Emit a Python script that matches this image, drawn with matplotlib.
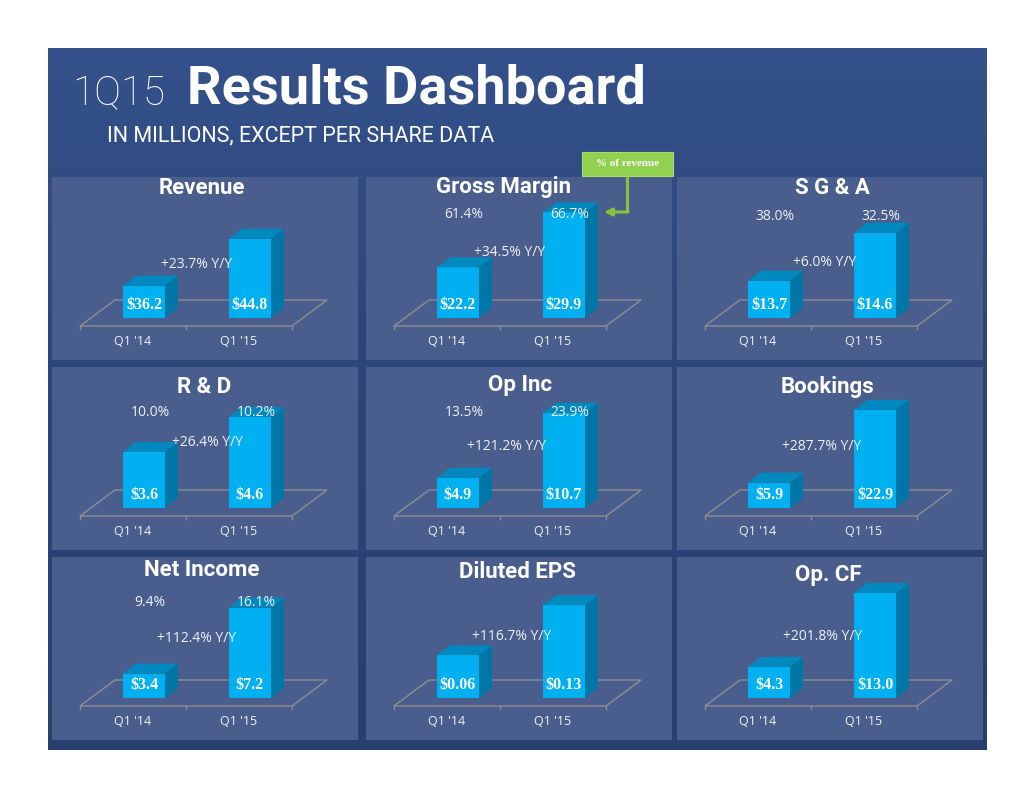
import numpy as np
import matplotlib
matplotlib.use('Agg')
import matplotlib.pyplot as plt
from matplotlib.patches import Rectangle, Polygon
from matplotlib.colors import LinearSegmentedColormap

# ---- data ----
titles = ['Revenue', 'Gross Margin', 'S G & A',
          'R & D', 'Op Inc', 'Bookings',
          'Net Income', 'Diluted EPS', 'Op. CF']
categories = ["Q1 '14", "Q1 '15"]
q1_14 = [36.2, 22.2, 13.7, 3.6, 4.9, 5.9, 3.4, 0.06, 4.3]
q1_15 = [44.8, 29.9, 14.6, 4.6, 10.7, 22.9, 7.2, 0.13, 13.0]
decimals = [1, 1, 1, 1, 1, 1, 1, 2, 1]
yoy = ['+23.7%', '+34.5%', '+6.0%', '+26.4%', '+121.2%',
       '+287.7%', '+112.4%', '+116.7%', '+201.8%']
pct_14 = [None, '61.4%', '38.0%', '10.0%', '13.5%', None, '9.4%', None, None]
pct_15 = [None, '66.7%', '32.5%', '10.2%', '23.9%', None, '16.1%', None, None]

# axis ranges of each little chart (the original uses a cut floor)
y_low = [30.3, 15.1, 13.0, 2.0, 2.2, 0.0, 2.0, 0.0, 0.65]
y_high = [50.6, 30.65, 15.08, 5.17, 12.1, 25.9, 8.38, 0.1555, 13.7]

# ---- layout (pixels) ----
W, H = 1034, 799
col_x = [52, 366, 677]
row_y = [177, 367, 557]
PW, PH = 306, 183
title_dx = [150, 137, 155, 152, 154, 151, 150, 151, 151]
title_dy = [11, 10, 11, 20, 18, 20, 13, 15, 18]
yoy_pos = [(145, 87), (144, 76), (148, 86), (155, 76), (141, 80),
           (145, 79), (145, 81), (146, 80), (146, 80)]
pct_dy = [0, 38, 40, 46, 46, 0, 46, 0, 0]

HEAD = 'Roboto'
LABEL = 'Open Sans'
SERIF = 'Liberation Serif'

FRONT = '#00b0f0'
SIDE = '#0076a6'
TOP = '#0089bf'
FLOOR = '#8e8e8e'
TXT = '#eef0f4'

fig = plt.figure(figsize=(W / 100, H / 100), dpi=100)
fig.patch.set_facecolor('white')

bg = fig.add_axes([0, 0, 1, 1], zorder=0)
bg.set_xlim(0, W)
bg.set_ylim(H, 0)
bg.axis('off')

# background block
cmap = LinearSegmentedColormap.from_list('bgblue', ['#34518b', '#2c4577', '#283f70'])
grad = np.linspace(0, 1, 200).reshape(-1, 1)
bg.imshow(grad, cmap=cmap, aspect='auto', extent=(48, 987, 750, 48), zorder=0)

# panels
for r in range(3):
    for c in range(3):
        bg.add_patch(Rectangle((col_x[c], row_y[r]), PW, PH,
                               fc='#4a5e8e', ec='none', zorder=1))

# overlay for texts that sit on top of the bars
ov = fig.add_axes([0, 0, 1, 1], zorder=10)
ov.set_xlim(0, W)
ov.set_ylim(H, 0)
ov.axis('off')
ov.patch.set_visible(False)

# heading
ov.text(72, 104, '1Q15', fontsize=29, family=HEAD, fontweight='light',
        color='white', va='baseline')
ov.text(187, 104, 'Results Dashboard', fontsize=39, family=HEAD,
        fontweight='bold', color='white', va='baseline')
ov.text(107, 141, 'IN MILLIONS, EXCEPT PER SHARE DATA', fontsize=15.5,
        family=HEAD, color='white', va='baseline')

# "% of revenue" callout
ov.add_patch(Rectangle((582, 152), 91, 24, fc='#92d050', ec='#a6dc6a', lw=0.8))
ov.text(627.5, 164, '% of revenue', fontsize=8, family=SERIF, fontweight='bold',
        color='white', ha='center', va='center')
ov.plot([627, 627], [176, 212], color='#86c440', lw=2.2, solid_capstyle='butt')
ov.annotate('', xy=(604, 212), xytext=(628, 212),
            arrowprops=dict(arrowstyle='-|>', color='#86c440', lw=2.2,
                            mutation_scale=11, shrinkA=0, shrinkB=0))

for i in range(9):
    r, c = divmod(i, 3)
    pl, pt = col_x[c], row_y[r]

    # panel title
    ov.text(pl + title_dx[i], pt + title_dy[i], titles[i], fontsize=16,
            family=HEAD, fontweight='bold', color='white',
            ha='center', va='center')

    ax = fig.add_axes([(pl + 28) / W, 1 - (pt + 141) / H, 212 / W, 111 / H], zorder=5)
    ax.set_xlim(-0.5, 1.5)
    ax.set_ylim(y_low[i], y_high[i])
    ax.patch.set_visible(False)
    for s in ax.spines.values():
        s.set_visible(False)
    ax.set_yticks([])
    ax.set_xticks(np.arange(2))
    ax.set_xticklabels(categories, fontsize=9, family=LABEL, color=TXT)
    ax.tick_params(axis='x', length=0, pad=12)

    xpx = 2.0 / 212
    ypx = (y_high[i] - y_low[i]) / 111
    lo = y_low[i]

    # floor
    fy0 = lo - 8 * ypx
    fy1 = lo + 18 * ypx
    fdx = 35 * xpx
    ax.add_patch(Polygon([(-0.5, fy0), (1.5, fy0), (1.5 + fdx, fy1), (-0.5 + fdx, fy1)],
                         closed=True, fill=False, ec=FLOOR, lw=1.0, clip_on=False, zorder=1))
    for xt in (-0.5, 0.5, 1.5):
        ax.plot([xt, xt], [fy0, fy0 - 3 * ypx], color=FLOOR, lw=1.0, clip_on=False, zorder=1)

    # bars
    vals = np.array([q1_14[i], q1_15[i]])
    xs = np.arange(2) + 11 * xpx
    bw = 42 * xpx
    ax.bar(xs, vals - lo, bottom=lo, width=bw, color=FRONT, zorder=3, clip_on=False)
    dx, dy = 13 * xpx, 10 * ypx
    for x, v in zip(xs, vals):
        xl, xr = x - bw / 2, x + bw / 2
        ax.add_patch(Polygon([(xr, lo), (xr + dx, lo + dy), (xr + dx, v + dy), (xr, v)],
                             closed=True, fc=SIDE, ec='none', clip_on=False, zorder=3))
        ax.add_patch(Polygon([(xl, v), (xr, v), (xr + dx, v + dy), (xl + dx, v + dy)],
                             closed=True, fc=TOP, ec='none', clip_on=False, zorder=3))
        ax.text(x, lo + 13 * ypx, f'${v:.{decimals[i]}f}', fontsize=11.5, family=SERIF,
                fontweight='bold', color='white', ha='center', va='center', zorder=5)

    # Y/Y growth
    ov.text(pl + yoy_pos[i][0], pt + yoy_pos[i][1], yoy[i] + ' Y/Y', fontsize=10,
            family=LABEL, color=TXT, ha='center', va='center')

    # % of revenue
    if pct_14[i]:
        ov.text(pl + 98, pt + pct_dy[i], pct_14[i], fontsize=10, family=LABEL,
                color=TXT, ha='center', va='center')
        ov.text(pl + 204, pt + pct_dy[i], pct_15[i], fontsize=10, family=LABEL,
                color=TXT, ha='center', va='center')

fig.savefig('out.png', dpi=100, facecolor='white')
